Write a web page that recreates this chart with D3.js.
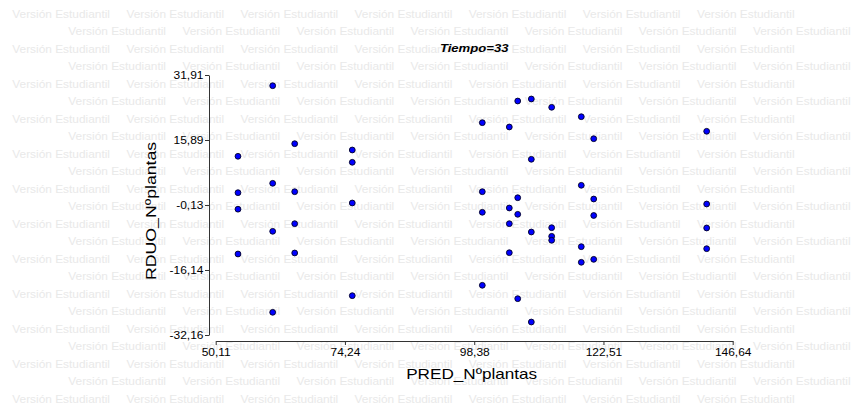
<!DOCTYPE html>
<html>
<head>
<meta charset="utf-8">
<script src="https://cdn.jsdelivr.net/npm/d3@7"></script>
<style>
  html, body { margin: 0; padding: 0; background: #fff; }
  svg { display: block; }
  text { font-family: "Liberation Sans", Arial, sans-serif; }
</style>
</head>
<body>
<svg id="chart" width="856" height="413"></svg>
<script>
// Residuals vs. predicted values (Tiempo=33)
const title = "Tiempo=33";
const xLabel = "PRED_Nºplantas";
const yLabel = "RDUO_Nºplantas";

const xTickValues = [50.11, 74.24, 98.38, 122.51, 146.64];
const xTickLabels = ["50,11", "74,24", "98,38", "122,51", "146,64"];
const yTickValues = [31.91, 15.89, -0.13, -16.14, -32.16];
const yTickLabels = ["31,91", "15,89", "-0,13", "-16,14", "-32,16"];

// predicted values
const pred = [
  60.75, 54.27, 64.86, 75.61, 75.61, 60.75, 64.86, 54.27,
  54.27, 75.61, 64.86, 60.75, 54.27, 64.86, 75.61, 60.75,
  99.89, 106.50, 109.04, 112.84, 118.37, 104.93, 120.69, 109.04,
  141.78, 99.89, 118.37, 106.50, 120.69, 104.93, 141.78, 99.89,
  106.50, 120.69, 104.93, 112.84, 141.78, 109.04, 112.84, 112.84,
  118.37, 104.93, 120.69, 118.37, 141.78, 99.89, 106.50, 109.04
];
// residuals
const resid = [
  29.27, 11.88, 14.98, 13.43, 10.40, 5.22, 3.15, 2.91,
  -1.16, 0.37, -4.73, -6.61, -12.20, -11.95, -22.47, -26.57,
  20.16, 25.50, 26.00, 23.95, 21.63, 19.10, 16.21, 11.14,
  18.04, 3.15, 4.73, 1.67, 1.35, -0.86, 0.12, -1.92,
  -2.42, -2.71, -4.73, -5.72, -5.79, -6.78, -7.84, -8.82,
  -10.40, -11.88, -13.51, -14.24, -10.89, -19.91, -23.21, -28.96
];

const watermark = "Versión Estudiantil";

const svg = d3.select("#chart");
const STRETCH = 1.12; // horizontal glyph widening of the printed fonts

function widen(sel) {
  sel.each(function () {
    const len = this.getComputedTextLength();
    d3.select(this).attr("textLength", len * STRETCH).attr("lengthAdjust", "spacingAndGlyphs");
  });
}

// background watermark
const wm = svg.append("g").attr("fill", "#e9e9e9").attr("font-size", 10.5);
const nRows = 23, nCols = 7, rowStep = 17.5, colStep = 114.1;
for (let r = 0; r < nRows; r++) {
  const x0 = r % 2 === 0 ? 12.3 : 68.3;
  for (let c = 0; c < nCols; c++) {
    wm.append("text")
      .attr("x", x0 + c * colStep)
      .attr("y", 17.8 + r * rowStep)
      .attr("textLength", 97.7)
      .attr("lengthAdjust", "spacingAndGlyphs")
      .text(watermark);
  }
}

const x = d3.scaleLinear().domain([50.11, 146.64]).range([215.7, 732.7]);
const y = d3.scaleLinear().domain([-32.16, 31.91]).range([335, 75]);

// x axis
const gx = svg.append("g")
  .attr("transform", "translate(0,341)")
  .call(d3.axisBottom(x).tickValues(xTickValues).tickSize(4).tickSizeOuter(0)
    .tickFormat((d, i) => xTickLabels[i]));
gx.select(".domain").attr("stroke", "#333");
gx.selectAll(".tick line").attr("stroke", "#333");
gx.selectAll(".tick text")
  .attr("font-family", "Liberation Sans, Arial, sans-serif")
  .attr("font-size", 10.7).attr("fill", "#000").attr("y", 7).attr("dy", "0.71em")
  .call(widen);

// y axis
const gy = svg.append("g")
  .attr("transform", "translate(209,0)")
  .call(d3.axisLeft(y).tickValues(yTickValues).tickSize(4).tickSizeOuter(0)
    .tickFormat((d, i) => yTickLabels[i]));
gy.select(".domain").attr("stroke", "#333");
gy.selectAll(".tick line").attr("stroke", "#333");
gy.selectAll(".tick text")
  .attr("font-family", "Liberation Sans, Arial, sans-serif")
  .attr("font-size", 10.7).attr("fill", "#000").attr("x", -5.5)
  .call(widen);

// title
svg.append("text")
  .attr("x", 474.2).attr("y", 51.7)
  .attr("text-anchor", "middle")
  .attr("font-size", 11.7).attr("font-weight", "bold").attr("font-style", "italic")
  .attr("fill", "#000")
  .text(title)
  .call(widen);

// axis titles
svg.append("text")
  .attr("x", 471.7).attr("y", 379.3)
  .attr("text-anchor", "middle")
  .attr("font-size", 15).attr("fill", "#000")
  .attr("textLength", 131).attr("lengthAdjust", "spacingAndGlyphs")
  .text(xLabel);

svg.append("text")
  .attr("transform", "translate(155.5,210.9) rotate(-90)")
  .attr("text-anchor", "middle")
  .attr("font-size", 15).attr("fill", "#000")
  .attr("textLength", 138).attr("lengthAdjust", "spacingAndGlyphs")
  .text(yLabel);

// points
svg.append("g")
  .selectAll("circle")
  .data(pred.map((p, i) => ({ p, r: resid[i] })))
  .join("circle")
  .attr("cx", d => x(d.p))
  .attr("cy", d => y(d.r))
  .attr("r", 2.9)
  .attr("fill", "#0000ff")
  .attr("stroke", "#000022")
  .attr("stroke-width", 0.9);
</script>
</body>
</html>
